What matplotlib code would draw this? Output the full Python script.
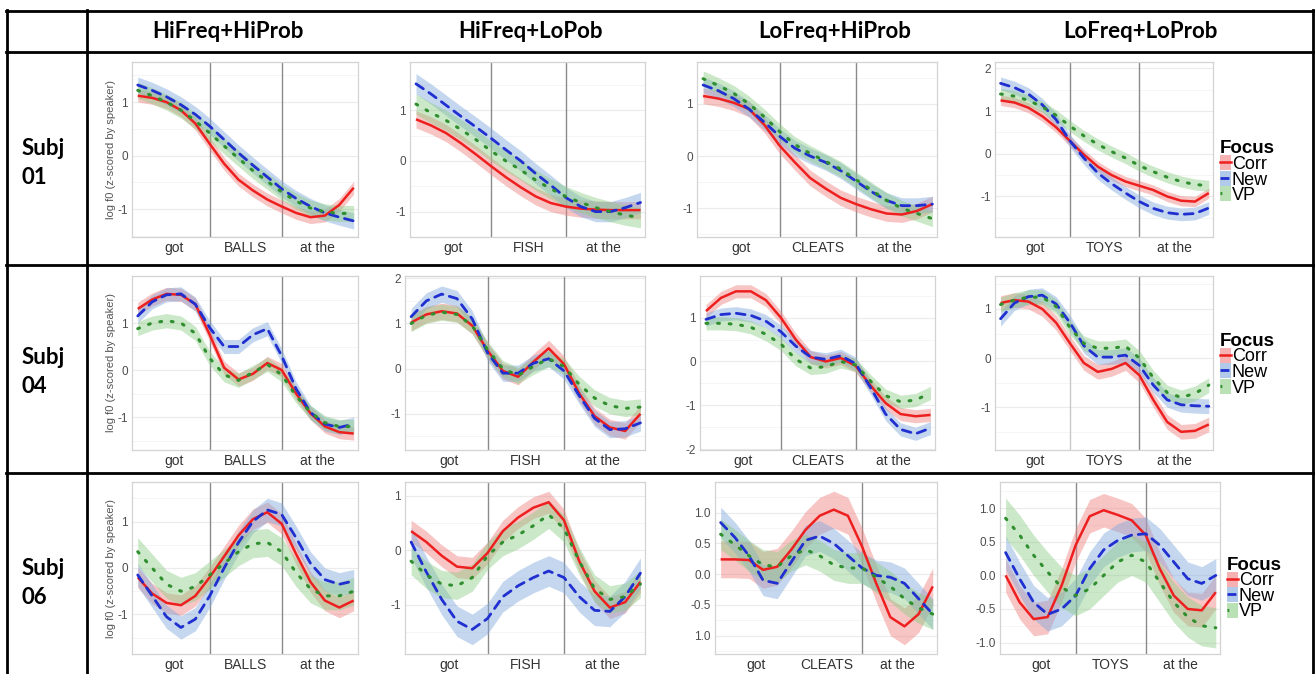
import matplotlib.pyplot as plt
from matplotlib.lines import Line2D
from matplotlib.patches import Patch

# time axis: got = 0..1, target word = 1..2, "at the" = 2..3
x_pos = [0.0, 0.2, 0.4, 0.6, 0.8, 1.0, 1.2, 1.4, 1.6, 1.8, 2.0, 2.2, 2.4, 2.6, 2.8, 3.0]

conditions = ["HiFreq+HiProb", "HiFreq+LoPob", "LoFreq+HiProb", "LoFreq+LoProb"]
words = ["BALLS", "FISH", "CLEATS", "TOYS"]
subjects = ["01", "04", "06"]
focus = ["Corr", "New", "VP"]

# ---- Subj 01 ----
s01_hh_corr = [1.12, 1.08, 1.0, 0.85, 0.6, 0.22, -0.15, -0.45, -0.65, -0.82, -0.95, -1.07, -1.15, -1.12, -0.92, -0.6]
s01_hh_new = [1.32, 1.22, 1.1, 0.95, 0.77, 0.55, 0.3, 0.05, -0.18, -0.4, -0.62, -0.8, -0.95, -1.07, -1.15, -1.22]
s01_hh_vp = [1.22, 1.12, 1.0, 0.85, 0.65, 0.42, 0.18, -0.05, -0.28, -0.48, -0.68, -0.85, -0.98, -1.05, -1.08, -1.08]

s01_hl_corr = [0.82, 0.7, 0.55, 0.35, 0.13, -0.1, -0.32, -0.52, -0.7, -0.83, -0.9, -0.94, -0.96, -0.97, -0.97, -0.97]
s01_hl_new = [1.52, 1.32, 1.1, 0.88, 0.67, 0.45, 0.22, 0.0, -0.25, -0.48, -0.72, -0.9, -1.0, -1.0, -0.92, -0.82]
s01_hl_vp = [1.12, 0.95, 0.8, 0.62, 0.42, 0.2, 0.0, -0.18, -0.38, -0.55, -0.7, -0.82, -0.92, -1.0, -1.07, -1.12]

s01_lh_corr = [1.15, 1.1, 1.02, 0.9, 0.6, 0.2, -0.12, -0.42, -0.62, -0.8, -0.92, -1.02, -1.1, -1.12, -1.05, -0.92]
s01_lh_new = [1.36, 1.25, 1.1, 0.9, 0.65, 0.38, 0.15, 0.0, -0.12, -0.28, -0.48, -0.68, -0.85, -0.95, -0.95, -0.92]
s01_lh_vp = [1.48, 1.35, 1.2, 1.0, 0.75, 0.47, 0.22, 0.05, -0.1, -0.25, -0.45, -0.65, -0.85, -1.0, -1.1, -1.2]

s01_ll_corr = [1.25, 1.2, 1.08, 0.88, 0.62, 0.3, -0.02, -0.3, -0.5, -0.65, -0.75, -0.85, -1.0, -1.1, -1.12, -0.92]
s01_ll_new = [1.65, 1.55, 1.4, 1.15, 0.8, 0.3, -0.1, -0.45, -0.7, -0.92, -1.12, -1.28, -1.38, -1.42, -1.4, -1.27]
s01_ll_vp = [1.4, 1.35, 1.25, 1.1, 0.9, 0.65, 0.42, 0.22, 0.05, -0.1, -0.28, -0.42, -0.55, -0.65, -0.72, -0.75]

# ---- Subj 04 ----
s04_hh_corr = [1.3, 1.5, 1.62, 1.6, 1.4, 0.75, 0.05, -0.2, -0.08, 0.15, 0.0, -0.5, -0.92, -1.2, -1.32, -1.35]
s04_hh_new = [1.15, 1.45, 1.6, 1.62, 1.4, 0.9, 0.5, 0.5, 0.75, 0.88, 0.3, -0.4, -0.9, -1.15, -1.22, -1.15]
s04_hh_vp = [0.88, 1.0, 1.05, 1.0, 0.78, 0.25, -0.1, -0.22, -0.05, 0.12, -0.1, -0.55, -0.9, -1.12, -1.2, -1.2]

s04_hl_corr = [1.02, 1.2, 1.27, 1.22, 0.95, 0.4, -0.05, -0.18, 0.15, 0.45, 0.1, -0.55, -1.05, -1.3, -1.38, -1.0]
s04_hl_new = [1.15, 1.5, 1.65, 1.55, 1.1, 0.35, -0.1, -0.1, 0.12, 0.22, -0.05, -0.6, -1.1, -1.35, -1.33, -1.2]
s04_hl_vp = [1.0, 1.18, 1.25, 1.2, 0.95, 0.42, 0.0, -0.15, 0.05, 0.22, 0.05, -0.35, -0.65, -0.82, -0.88, -0.85]

s04_lh_corr = [1.15, 1.45, 1.6, 1.6, 1.4, 1.0, 0.5, 0.1, 0.0, 0.08, -0.1, -0.55, -0.95, -1.2, -1.25, -1.22]
s04_lh_new = [0.96, 1.07, 1.1, 1.05, 0.92, 0.68, 0.35, 0.1, 0.05, 0.13, -0.05, -0.6, -1.2, -1.55, -1.65, -1.52]
s04_lh_vp = [0.87, 0.87, 0.85, 0.78, 0.62, 0.4, 0.05, -0.15, -0.12, 0.0, -0.08, -0.45, -0.78, -0.92, -0.88, -0.72]

s04_ll_corr = [1.12, 1.18, 1.15, 1.0, 0.72, 0.3, -0.1, -0.28, -0.22, -0.1, -0.35, -0.85, -1.3, -1.5, -1.48, -1.35]
s04_ll_new = [0.8, 1.12, 1.25, 1.28, 1.1, 0.72, 0.25, 0.02, 0.02, 0.06, -0.15, -0.55, -0.85, -0.95, -0.97, -0.98]
s04_ll_vp = [1.09, 1.18, 1.24, 1.24, 1.05, 0.62, 0.3, 0.2, 0.2, 0.24, 0.0, -0.4, -0.7, -0.8, -0.72, -0.55]

# ---- Subj 06 ----
s06_hh_corr = [-0.2, -0.55, -0.75, -0.8, -0.6, -0.2, 0.25, 0.7, 1.05, 1.2, 0.95, 0.3, -0.3, -0.7, -0.85, -0.7]
s06_hh_new = [-0.15, -0.6, -1.05, -1.28, -1.1, -0.6, 0.0, 0.55, 1.0, 1.25, 1.15, 0.65, 0.1, -0.25, -0.35, -0.28]
s06_hh_vp = [0.35, 0.0, -0.35, -0.5, -0.4, -0.15, 0.1, 0.35, 0.52, 0.55, 0.35, -0.1, -0.45, -0.6, -0.6, -0.5]

s06_hl_corr = [0.35, 0.15, -0.1, -0.3, -0.33, -0.05, 0.35, 0.6, 0.78, 0.88, 0.55, -0.2, -0.75, -1.05, -0.95, -0.58]
s06_hl_new = [0.15, -0.4, -0.9, -1.3, -1.45, -1.25, -0.85, -0.65, -0.5, -0.38, -0.5, -0.85, -1.1, -1.12, -0.85, -0.42]
s06_hl_vp = [-0.2, -0.45, -0.62, -0.65, -0.5, -0.1, 0.15, 0.28, 0.45, 0.65, 0.4, -0.2, -0.7, -0.9, -0.85, -0.62]

s06_lh_corr = [0.24, 0.24, 0.23, 0.07, 0.12, 0.4, 0.72, 0.95, 1.05, 0.95, 0.45, -0.15, -0.7, -0.85, -0.65, -0.2]
s06_lh_new = [0.84, 0.6, 0.3, -0.1, -0.15, 0.2, 0.55, 0.62, 0.5, 0.3, 0.1, -0.02, -0.05, -0.15, -0.4, -0.65]
s06_lh_vp = [0.65, 0.48, 0.3, 0.15, 0.12, 0.3, 0.4, 0.3, 0.15, 0.1, 0.1, -0.05, -0.2, -0.4, -0.55, -0.65]

s06_ll_corr = [0.0, -0.4, -0.65, -0.62, -0.15, 0.45, 0.88, 0.97, 0.9, 0.82, 0.6, 0.1, -0.3, -0.5, -0.52, -0.25]
s06_ll_new = [0.34, -0.05, -0.4, -0.58, -0.5, -0.3, 0.1, 0.38, 0.52, 0.6, 0.62, 0.45, 0.2, -0.05, -0.12, 0.0]
s06_ll_vp = [0.85, 0.6, 0.3, 0.05, -0.18, -0.3, -0.2, 0.0, 0.2, 0.3, 0.2, -0.1, -0.4, -0.62, -0.75, -0.78]

# confidence band half widths (Corr, New, VP) per panel
se_s01 = [[0.12, 0.15, 0.15], [0.17, 0.2, 0.2], [0.15, 0.15, 0.15], [0.12, 0.15, 0.13]]
se_s04 = [[0.14, 0.15, 0.15], [0.18, 0.18, 0.18], [0.15, 0.15, 0.15], [0.15, 0.15, 0.15]]
se_s06 = [[0.22, 0.25, 0.3], [0.2, 0.28, 0.25], [0.3, 0.25, 0.25], [0.25, 0.25, 0.3]]

curves = [
    [(s01_hh_corr, s01_hh_new, s01_hh_vp), (s01_hl_corr, s01_hl_new, s01_hl_vp),
     (s01_lh_corr, s01_lh_new, s01_lh_vp), (s01_ll_corr, s01_ll_new, s01_ll_vp)],
    [(s04_hh_corr, s04_hh_new, s04_hh_vp), (s04_hl_corr, s04_hl_new, s04_hl_vp),
     (s04_lh_corr, s04_lh_new, s04_lh_vp), (s04_ll_corr, s04_ll_new, s04_ll_vp)],
    [(s06_hh_corr, s06_hh_new, s06_hh_vp), (s06_hl_corr, s06_hl_new, s06_hl_vp),
     (s06_lh_corr, s06_lh_new, s06_lh_vp), (s06_ll_corr, s06_ll_new, s06_ll_vp)],
]
bands = [se_s01, se_s04, se_s06]

# y ticks / labels for each panel
yticks = [
    [[-1, 0, 1], [-1, 0, 1], [-1, 0, 1], [-1, 0, 1, 2]],
    [[-1, 0, 1], [-1, 0, 1, 2], [-2, -1, 0, 1], [-1, 0, 1]],
    [[-1, 0, 1], [-1, 0, 1], [-1, -0.5, 0, 0.5, 1], [-1, -0.5, 0, 0.5, 1]],
]
ylabels_33 = ["1.0", "-0.5", "0.0", "0.5", "1.0"]
ylabels_34 = ["-1.0", "-0.5", "0.0", "0.5", "1.0"]
ylims = [
    [(-1.52, 1.75), (-1.5, 1.95), (-1.55, 1.8), (-1.95, 2.15)],
    [(-1.7, 2.0), (-1.8, 2.05), (-2.02, 1.95), (-1.87, 1.67)],
    [(-1.85, 1.85), (-1.9, 1.25), (-1.3, 1.5), (-1.17, 1.39)],
]

# ---- layout (pixels) ----
W, H = 1315, 674
row_tb = [(62, 237), (276, 450), (482, 654)]
col_lr = [
    [(132, 358), (410, 645), (697, 937), (995, 1213)],
    [(132, 358), (405, 645), (700, 935), (995, 1213)],
    [(132, 358), (405, 645), (715, 937), (1000, 1220)],
]
legend_y = [0.37, 0.49, 0.38]

line_col = ["#ee1f1f", "#1f2fd0", "#2f8f2f"]
band_col = ["#f08080", "#7fa8dc", "#8ccc86"]
styles = ["-", (0, (3.2, 2.4)), (0, (0.6, 3.2))]
widths = [1.8, 2.0, 2.2]

fig = plt.figure(figsize=(W / 100, H / 100), dpi=100)
plt.rcParams['font.family'] = ['Liberation Sans', 'DejaVu Sans']
narrow = ['Liberation Sans Narrow', 'Liberation Sans', 'DejaVu Sans']


def hline(y, x0, x1, lw=2.0):
    fig.add_artist(Line2D([x0 / W, x1 / W], [1 - y / H, 1 - y / H], color="black", lw=lw,
                          transform=fig.transFigure))


def vline(x, y0, y1, lw=2.0):
    fig.add_artist(Line2D([x / W, x / W], [1 - y0 / H, 1 - y1 / H], color="black", lw=lw,
                          transform=fig.transFigure))


hline(11, 6, 1314)
hline(52, 6, 1314)
hline(265, 6, 1314)
hline(473, 6, 1314)
vline(7, 10, 674)
vline(87, 10, 674)
vline(1313, 10, 674)

header_x = [228, 530, 835, 1140]
for cx, name in zip(header_x, conditions):
    fig.text(cx / W, 1 - 31 / H, name, ha="center", va="center", fontsize=16,
             fontweight="bold", family=["Lato", "DejaVu Sans"])

row_label_y = [163, 372, 583]
for ry, s in zip(row_label_y, subjects):
    fig.text(22 / W, 1 - ry / H, "Subj\n" + s, ha="left", va="center", fontsize=16,
             fontweight="bold", linespacing=1.45, family=["Lato", "DejaVu Sans"])

for r in range(3):
    t, b = row_tb[r]
    for c in range(4):
        l, rr = col_lr[r][c]
        ax = fig.add_axes([l / W, 1 - b / H, (rr - l) / W, (b - t) / H])
        ax.set_xlim(-0.08, 3.06)
        ax.set_ylim(*ylims[r][c])

        # light ggplot-style grid
        yt = yticks[r][c]
        step = yt[1] - yt[0]
        for v in yt:
            ax.axhline(v, color="#ebebeb", lw=0.8, zorder=0)
            ax.axhline(v + step / 2, color="#f4f4f4", lw=0.6, zorder=0)
        ax.axhline(yt[0] - step / 2, color="#f4f4f4", lw=0.6, zorder=0)

        bounds = [2] if (r == 2 and c == 2) else [1, 2]
        for xb in bounds:
            faint = (r == 1 and c == 3 and xb == 1)
            ax.axvline(xb, color="#c8c8c8" if faint else "#8a8a8a", lw=1.0, zorder=1)

        for k in range(3):
            y = curves[r][c][k]
            se = bands[r][c][k]
            lo = [v - se for v in y]
            hi = [v + se for v in y]
            ax.fill_between(x_pos, lo, hi, color=band_col[k], alpha=0.45, lw=0, zorder=2)
        for k in range(3):
            ax.plot(x_pos, curves[r][c][k], color=line_col[k], ls=styles[k], lw=widths[k],
                    zorder=3 + k, solid_capstyle="butt", dash_capstyle="round")

        ax.set_yticks(yt)
        if r == 2 and c == 2:
            ax.set_yticklabels(ylabels_33)
        elif r == 2 and c == 3:
            ax.set_yticklabels(ylabels_34)
        else:
            ax.set_yticklabels([str(v) for v in yt])
        ax.set_xticks([0.5, 1.5, 2.5], ["got", words[c], "at the"])
        ax.tick_params(axis="y", length=0, pad=3, labelsize=8.5, labelcolor="#4d4d4d")
        ax.tick_params(axis="x", length=0, pad=3, labelsize=10, labelcolor="#333333")
        for sp in ax.spines.values():
            sp.set_color("#d3d3d3")
            sp.set_linewidth(0.9)
        if c == 0:
            ax.set_ylabel("log f0 (z-scored by speaker)", fontsize=8, color="#555555", labelpad=1)

        if c == 3:
            handles = [(Patch(facecolor=band_col[k], alpha=0.6, lw=0),
                        Line2D([], [], color=line_col[k], ls=styles[k], lw=widths[k]))
                       for k in range(3)]
            leg = ax.legend(handles, focus, title="Focus", loc="center left",
                            bbox_to_anchor=(1.0, legend_y[r]), frameon=False,
                            prop={"family": narrow, "size": 13},
                            handlelength=0.6, handleheight=0.9, handletextpad=0.05,
                            labelspacing=-0.12, borderaxespad=0.3, borderpad=0.1,
                            alignment="left")
            leg.get_title().set_fontweight("bold")
            leg.get_title().set_fontsize(13.5)
            leg.get_title().set_family(narrow)

fig.savefig("out.png", dpi=100)
